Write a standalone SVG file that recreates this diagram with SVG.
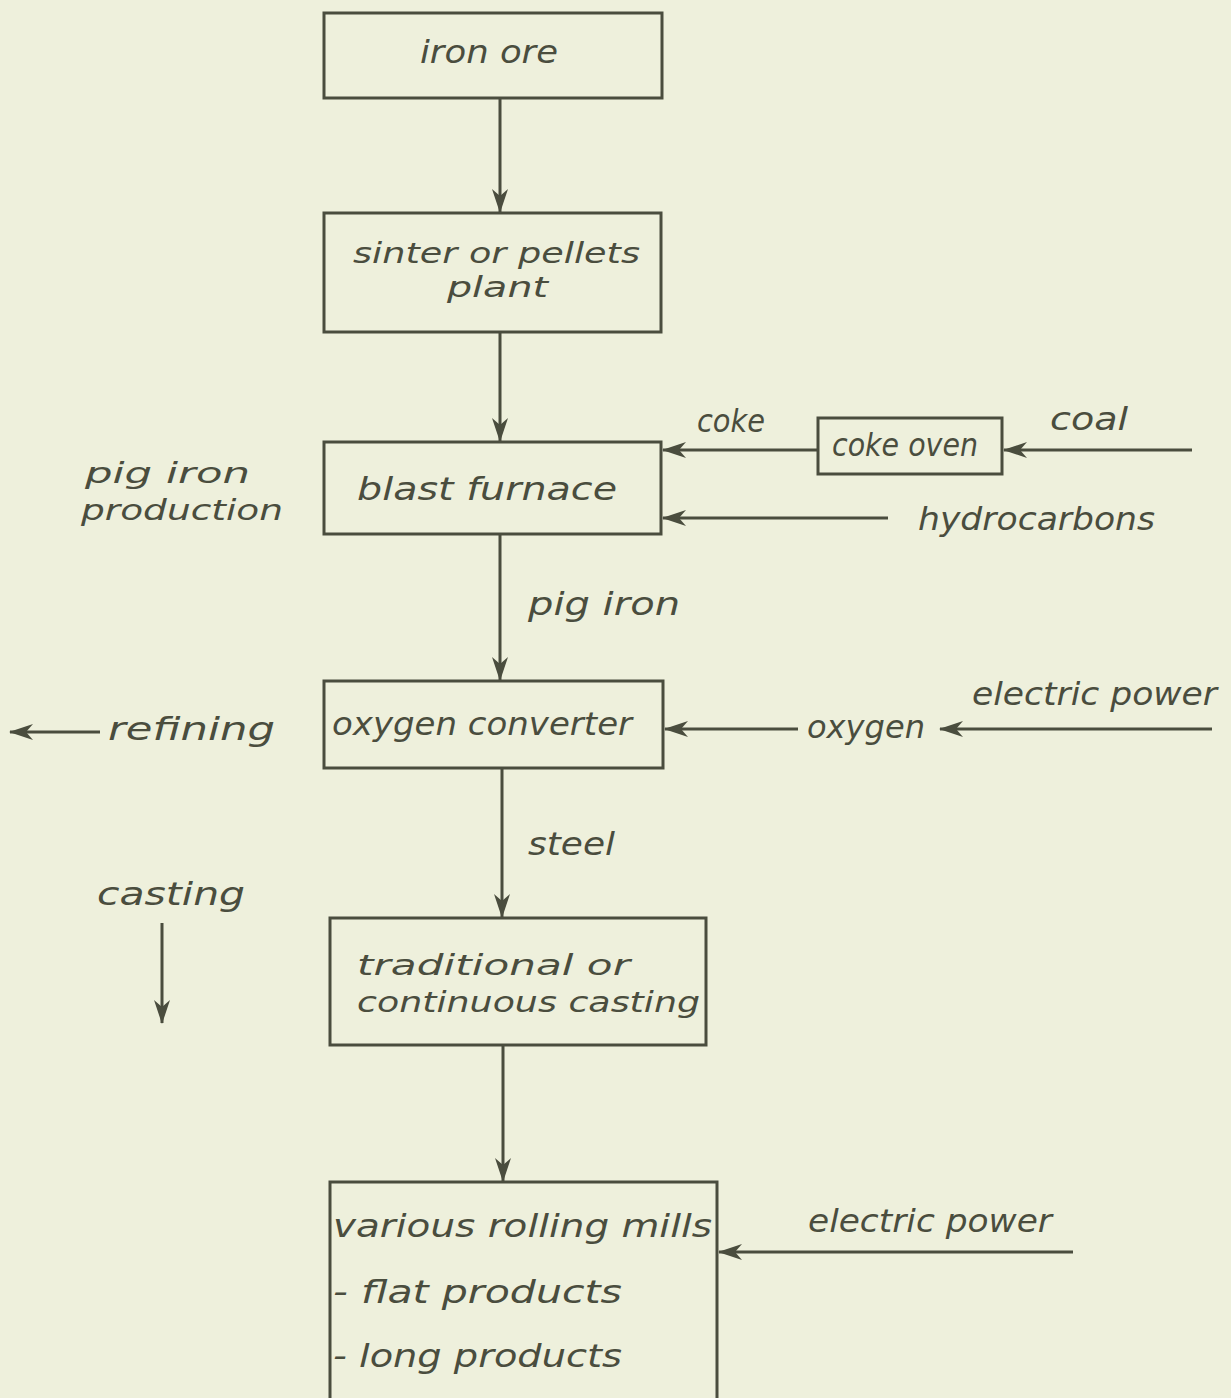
<svg xmlns="http://www.w3.org/2000/svg" width="1231" height="1398" viewBox="0 0 1231 1398">
<defs>
<style>
.box{fill:none;stroke:#4a4d3e;stroke-width:3}
.ln{fill:none;stroke:#4a4d3e;stroke-width:3;marker-end:url(#ah)}
text{font-family:"DejaVu Sans","Liberation Sans",sans-serif;font-style:italic;font-size:32px;fill:#4a4d3e}
.t2{font-size:29px}
</style>
<marker id="ah" markerUnits="userSpaceOnUse" markerWidth="26" markerHeight="18" refX="23" refY="8" orient="auto">
<path d="M0,0 L24,8 L0,16 L7,8 Z" fill="#4a4d3e"/>
</marker>
</defs>
<rect width="1231" height="1398" fill="#eef0dc"/>
<g id="connectors">
<line class="ln" x1="500" y1="98" x2="500" y2="212"/>
<line class="ln" x1="500" y1="332" x2="500" y2="441"/>
<line class="ln" x1="500" y1="534" x2="500" y2="680"/>
<line class="ln" x1="502" y1="768" x2="502" y2="917"/>
<line class="ln" x1="503" y1="1045" x2="503" y2="1181"/>
<line class="ln" x1="818" y1="450" x2="663" y2="450"/>
<line class="ln" x1="1192" y1="450" x2="1004" y2="450"/>
<line class="ln" x1="888" y1="518" x2="663" y2="518"/>
<line class="ln" x1="798" y1="729" x2="665" y2="729"/>
<line class="ln" x1="1212" y1="729" x2="940" y2="729"/>
<line class="ln" x1="100" y1="732" x2="10" y2="732"/>
<line class="ln" x1="162" y1="923" x2="162" y2="1023"/>
<line class="ln" x1="1073" y1="1252" x2="719" y2="1252"/>
</g>
<g id="iron-ore"><rect class="box" x="324" y="13" width="338" height="85"/><text x="420" y="63" textLength="138" lengthAdjust="spacingAndGlyphs">iron ore</text></g>
<g id="sinter"><rect class="box" x="324" y="213" width="337" height="119"/><text class="t2" x="353" y="263" textLength="287" lengthAdjust="spacingAndGlyphs">sinter or pellets</text><text class="t2" x="447" y="297" textLength="101" lengthAdjust="spacingAndGlyphs">plant</text></g>
<g id="blast-furnace"><rect class="box" x="324" y="442" width="337" height="92"/><text x="357" y="500" textLength="260" lengthAdjust="spacingAndGlyphs">blast furnace</text></g>
<g id="coke-oven"><rect class="box" x="818" y="418" width="184" height="56"/><text x="832" y="456" textLength="146" lengthAdjust="spacingAndGlyphs">coke oven</text></g>
<g id="oxygen-converter"><rect class="box" x="324" y="681" width="339" height="87"/><text x="332" y="735" textLength="300" lengthAdjust="spacingAndGlyphs">oxygen converter</text></g>
<g id="casting-box"><rect class="box" x="330" y="918" width="376" height="127"/><text class="t2" x="357" y="975" textLength="273" lengthAdjust="spacingAndGlyphs">traditional or</text><text class="t2" x="357" y="1012" textLength="343" lengthAdjust="spacingAndGlyphs">continuous casting</text></g>
<g id="rolling-mills"><rect class="box" x="330" y="1182" width="387" height="220"/><text x="333" y="1237" textLength="379" lengthAdjust="spacingAndGlyphs">various rolling mills</text><text x="333" y="1303" textLength="289" lengthAdjust="spacingAndGlyphs">- flat products</text><text x="333" y="1367" textLength="289" lengthAdjust="spacingAndGlyphs">- long products</text></g>
<g id="labels">
<text x="697" y="432" textLength="68" lengthAdjust="spacingAndGlyphs">coke</text>
<text x="1050" y="430" textLength="78" lengthAdjust="spacingAndGlyphs">coal</text>
<text x="918" y="530" textLength="237" lengthAdjust="spacingAndGlyphs">hydrocarbons</text>
<text class="t2" x="85" y="483" textLength="165" lengthAdjust="spacingAndGlyphs">pig iron</text>
<text class="t2" x="81" y="520" textLength="202" lengthAdjust="spacingAndGlyphs">production</text>
<text x="528" y="615" textLength="152" lengthAdjust="spacingAndGlyphs">pig iron</text>
<text x="108" y="740" textLength="167" lengthAdjust="spacingAndGlyphs">refining</text>
<text x="807" y="738" textLength="118" lengthAdjust="spacingAndGlyphs">oxygen</text>
<text x="972" y="705" textLength="245" lengthAdjust="spacingAndGlyphs">electric power</text>
<text x="528" y="855" textLength="87" lengthAdjust="spacingAndGlyphs">steel</text>
<text x="97" y="905" textLength="148" lengthAdjust="spacingAndGlyphs">casting</text>
<text x="808" y="1232" textLength="244" lengthAdjust="spacingAndGlyphs">electric power</text>
</g>
</svg>
